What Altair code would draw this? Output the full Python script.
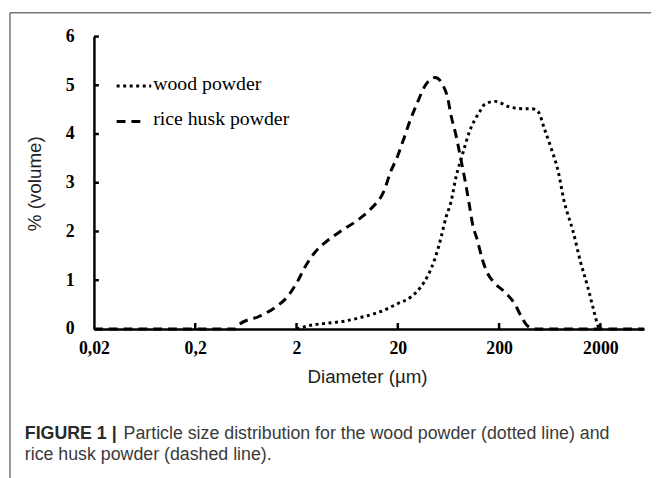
import altair as alt
import pandas as pd

# ---- data ----
rice_d = [0.02, 0.5, 0.55, 0.86, 1.25, 1.64, 2.04, 2.44, 3.06, 4.09, 5.6, 8.0, 10.9, 14.6,
          17.1, 19.5, 22.9, 26.7, 30.6, 37.4, 41.8, 46.8, 55.9, 62.5, 66.9, 74.8, 83.6, 93.5,
          102, 109, 122, 137, 153, 179, 229, 286, 334, 374, 448, 5400]
rice_v = [0, 0, 0.1, 0.26, 0.45, 0.67, 0.97, 1.28, 1.58, 1.82, 2.02, 2.23, 2.47, 2.83,
          3.24, 3.5, 3.9, 4.3, 4.6, 5.0, 5.12, 5.16, 5.0, 4.72, 4.39, 3.99, 3.5, 2.98,
          2.53, 2.17, 1.82, 1.42, 1.15, 0.95, 0.75, 0.51, 0.24, 0.08, 0, 0]

wood_d = [2, 2.86, 4.09, 5.98, 8.75, 11.2, 13.7, 19.5, 26.7, 33.4, 40, 46.8, 53.5, 59.8,
          66.9, 74.8, 87.5, 102, 128, 146, 183, 250, 334, 418, 489, 559, 655, 765, 875,
          1069, 1279, 1496, 1710, 1914, 2000]
wood_v = [0, 0.08, 0.12, 0.16, 0.24, 0.3, 0.36, 0.51, 0.65, 0.85, 1.11, 1.46, 1.88, 2.29,
          2.6, 3.1, 3.6, 4.05, 4.45, 4.62, 4.67, 4.56, 4.52, 4.52, 4.45, 4.11, 3.7, 3.24, 2.63,
          2.02, 1.36, 0.87, 0.4, 0.04, 0]

x_ticks = [0.02, 0.2, 2, 20, 200, 2000]
y_ticks = [0, 1, 2, 3, 4, 5, 6]

legend_labels = ["wood powder", "rice husk powder"]
x_title = "Diameter (µm)"
y_title = "% (volume)"
caption_bold = "FIGURE 1 |"
caption_1 = "Particle size distribution for the wood powder (dotted line) and"
caption_2 = "rice husk powder (dashed line)."

W, H = 557, 296
xs = alt.Scale(type="log", domain=[0.02, 5400], nice=False)
ys = alt.Scale(domain=[0, 6], nice=False)
x_axis = alt.Axis(values=x_ticks, title=None,
                  labelExpr="replace(toString(datum.value), '.', ',')",
                  labelPadding=11, labelFlush=False, labelOverlap=False, labelBound=False)
y_axis = alt.Axis(values=y_ticks, title=None, labelPadding=20, labelFlush=False,
                  labelOverlap=False)

rice = pd.DataFrame({"d": rice_d, "v": rice_v})
wood = pd.DataFrame({"d": wood_d, "v": wood_v})
one = pd.DataFrame({"a": [0]})

rice_line = alt.Chart(rice).mark_line(
    color="black", strokeWidth=3, strokeDash=[9, 6], interpolate="monotone"
).encode(
    x=alt.X("d:Q", scale=xs, axis=x_axis),
    y=alt.Y("v:Q", scale=ys, axis=y_axis),
)

wood_line = alt.Chart(wood).mark_line(
    color="black", strokeWidth=3, strokeDash=[3, 3.6], interpolate="monotone"
).encode(
    x=alt.X("d:Q", scale=xs, axis=x_axis),
    y=alt.Y("v:Q", scale=ys, axis=y_axis),
)

# inward tick marks
xt = alt.Chart(pd.DataFrame({"d": x_ticks[1:]})).mark_rule(color="black", strokeWidth=2.5).encode(
    x=alt.X("d:Q", scale=xs, axis=x_axis), y=alt.value(H), y2=alt.value(H - 6))
yt = alt.Chart(pd.DataFrame({"v": y_ticks[1:]})).mark_rule(color="black", strokeWidth=2.5).encode(
    y=alt.Y("v:Q", scale=ys, axis=y_axis), x=alt.value(0), x2=alt.value(5))

# legend
leg_dot = alt.Chart(one).mark_rule(color="black", strokeWidth=3, strokeDash=[3, 3.6]).encode(
    x=alt.value(23), x2=alt.value(58), y=alt.value(50))
leg_dash = alt.Chart(one).mark_rule(color="black", strokeWidth=3, strokeDash=[9, 6]).encode(
    x=alt.value(23), x2=alt.value(48), y=alt.value(86))
leg_t1 = alt.Chart(one).mark_text(font="Liberation Serif", fontSize=20, align="left",
                                  baseline="middle", color="black").encode(
    x=alt.value(60), y=alt.value(48), text=alt.value(legend_labels[0]))
leg_t2 = alt.Chart(one).mark_text(font="Liberation Serif", fontSize=20, align="left",
                                  baseline="middle", color="black").encode(
    x=alt.value(60), y=alt.value(84), text=alt.value(legend_labels[1]))

# axis titles
xtitle = alt.Chart(one).mark_text(font="Liberation Sans", fontSize=19, align="center",
                                  baseline="alphabetic", color="#222").encode(
    x=alt.value(277), y=alt.value(351), text=alt.value(x_title))
ytitle = alt.Chart(one).mark_text(font="Liberation Sans", fontSize=19, align="center",
                                  baseline="middle", angle=270, color="#222").encode(
    x=alt.value(-60), y=alt.value(149), text=alt.value(y_title))

# caption
cap0 = alt.Chart(one).mark_text(font="Liberation Sans", fontSize=18, fontWeight="bold",
                                align="left", baseline="alphabetic", color="#2a2a2a").encode(
    x=alt.value(-70), y=alt.value(407), text=alt.value(caption_bold))
cap1 = alt.Chart(one).mark_text(font="Liberation Sans", fontSize=18, align="left",
                                baseline="alphabetic", color="#3a3a3a").encode(
    x=alt.value(30), y=alt.value(407), text=alt.value(caption_1))
cap2 = alt.Chart(one).mark_text(font="Liberation Sans", fontSize=18, align="left",
                                baseline="alphabetic", color="#3a3a3a").encode(
    x=alt.value(-70), y=alt.value(429), text=alt.value(caption_2))

# frame
frame_top = alt.Chart(one).mark_rule(color="#777", strokeWidth=1.5).encode(
    x=alt.value(-85), x2=alt.value(600), y=alt.value(-24))
frame_left = alt.Chart(one).mark_rule(color="#777", strokeWidth=1.5).encode(
    x=alt.value(-85), y=alt.value(-24), y2=alt.value(500))

chart = alt.layer(
    rice_line, wood_line, xt, yt, frame_top, frame_left, leg_dot, leg_dash, leg_t1, leg_t2,
    xtitle, ytitle, cap0, cap1, cap2
).properties(
    width=W, height=H,
    autosize=alt.AutoSizeParams(type="none"),
    padding={"left": 87, "top": 26, "right": 7, "bottom": 148},
).configure_view(stroke=None).configure_axis(
    grid=False, ticks=False, domainColor="black", domainWidth=2.5,
    labelFont="Liberation Serif", labelFontWeight="bold", labelFontSize=18, labelColor="black",
)

chart.save("out.html", embed_options={"renderer": "svg", "actions": False})
